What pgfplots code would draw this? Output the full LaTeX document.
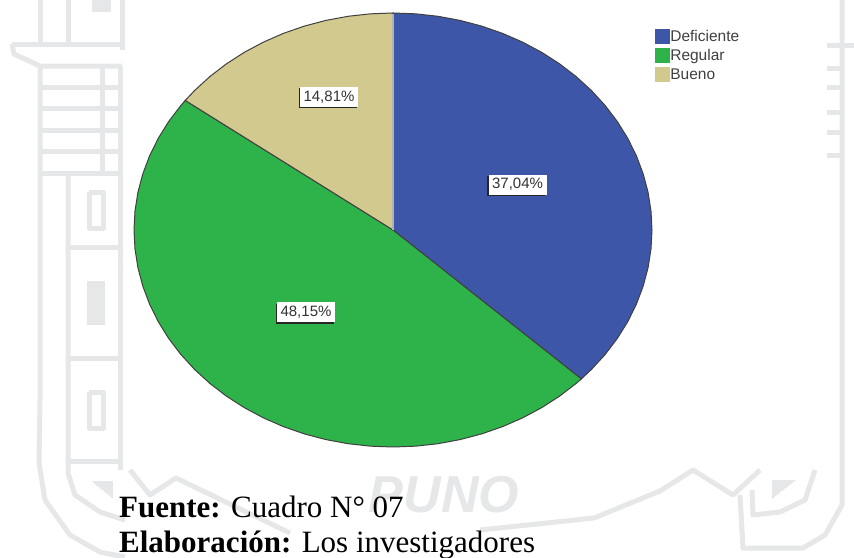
\documentclass[border=0pt]{standalone}
\usepackage{pgfplots}
\pgfplotsset{compat=1.18}
\usepgfplotslibrary{polar}
\usepackage{fontspec}
\setmainfont{Liberation Serif}
\newfontfamily\lab{Liberation Sans}
\definecolor{wm}{HTML}{E6E7E8}
\definecolor{cblue}{HTML}{3E56A8}
\definecolor{cgreen}{HTML}{2DB34A}
\definecolor{ctan}{HTML}{D2C98E}
\tikzset{lb/.style={fill=white,inner sep=0pt,minimum width=58pt,minimum height=20pt,text=black!80,font=\lab\fontsize{15}{15}\selectfont},
 sh/.style={fill=black!85,inner sep=0pt,minimum width=58pt,minimum height=20pt},
 wl/.style={wm,line width=5pt,line join=round},
 wf/.style={wm,fill=wm,line width=0pt}}
\begin{document}
\begin{tikzpicture}[x=1pt,y=1pt]
\useasboundingbox (0,0) rectangle (854,557);
\begin{axis}[at={(0pt,0pt)},anchor=south west,scale only axis,width=854pt,height=557pt,
  xmin=0,xmax=854,ymin=0,ymax=557,y dir=reverse,hide axis,clip=true]
% watermark, left tower
\addplot[wl] coordinates {(40,0)(40,44)};
\addplot[wl] coordinates {(68,0)(68,44)};
\addplot[wl] coordinates {(122,0)(122,50)};
\addplot[wl] coordinates {(12,44)(125,44)};
\addplot[wl] coordinates {(12,44)(14,54)(40,66)(122,66)};
\addplot[wl] coordinates {(40,66)(40,400)(39,463)(45,500)(70,535)(100,552)(125,557)};
\addplot[wl] coordinates {(68,174)(68,473)(75,495)(100,512)(125,520)};
\addplot[wl] coordinates {(120,66)(120,470)};
\addplot[wl] coordinates {(40,87)(120,87)};
\addplot[wl] coordinates {(40,108)(120,108)};
\addplot[wl] coordinates {(40,130)(120,130)};
\addplot[wl] coordinates {(40,151)(120,151)};
\addplot[wl] coordinates {(40,173)(120,173)};
\addplot[wl] coordinates {(102,66)(102,173)};
\addplot[wl] coordinates {(68,247)(120,247)};
\addplot[wl] coordinates {(68,358)(120,358)};
\addplot[wl] coordinates {(68,461)(120,461)};
\addplot[wl] coordinates {(89,192)(103,192)(103,228)(89,228)(89,192)};
\addplot[wl] coordinates {(89,392)(103,392)(103,428)(89,428)(89,392)};
\addplot[wf] coordinates {(87,281)(104,281)(104,324)(87,324)(87,281)};
\addplot[wf] coordinates {(92,481)(112,481)(112,497)(92,481)};
\addplot[wf] coordinates {(92,-1)(110,-1)(110,11)(92,11)(92,-1)};
% watermark, right tower
\addplot[wl] coordinates {(842,0)(842,430)(842,505)(825,535)(803,548)(743,548)(740,495)};
\addplot[wl] coordinates {(827,68)(842,68)};
\addplot[wl] coordinates {(827,45)(854,45)};
\addplot[wl] coordinates {(827,87)(842,87)};
\addplot[wl] coordinates {(827,112)(842,112)};
\addplot[wl] coordinates {(827,132)(842,132)};
\addplot[wl] coordinates {(827,155)(842,155)};
\addplot[wl] coordinates {(815,470)(805,500)(780,512)(753,515)(752,490)};
\addplot[wf] coordinates {(772,480)(795,480)(772,498)(772,480)};
% hills
\addplot[wl] coordinates {(130,470)(150,495)(176,478)(290,533)};
\addplot[wl] coordinates {(480,530)(594,518)(660,491)(693,470)(733,495)(760,470)};
\node[wm,font=\lab\bfseries\itshape\fontsize{52}{52}\selectfont,anchor=base] at (axis cs:444,512) {PUNO};
% captions
\node[anchor=base west,inner sep=0pt,font=\fontsize{31}{31}\selectfont] at (axis cs:119,517) {\textbf{Fuente:} Cuadro N° 07};
\node[anchor=base west,inner sep=0pt,font=\fontsize{31}{31}\selectfont] at (axis cs:119,552) {\textbf{Elaboración:} Los investigadores};
\end{axis}
\begin{axis}[at={(393pt,327pt)},anchor=center,scale only axis,width=518pt,height=434pt,
  xmin=-1,xmax=1,ymin=-1,ymax=1,hide axis,clip=false,
  legend style={at={(axis cs:1.012,0.926)},anchor=north west,draw=none,fill=none,inner sep=0pt,
    font=\lab\fontsize{15.5}{15.5}\selectfont,text=black!75,row sep=4pt,
    nodes={inner sep=0pt,anchor=west}},
  legend cell align=left,
  legend image code/.code={\fill[#1,draw=none] (0pt,-7.5pt) rectangle (15pt,7.5pt);\hspace*{8pt}}]
\addplot[data cs=polar,fill=cblue,draw=black!75,line width=1pt] coordinates {(0,0)
 (90,1)(85,1)(80,1)(75,1)(70,1)(65,1)(60,1)(55,1)(50,1)(45,1)(40,1)(35,1)(30,1)(25,1)(20,1)(15,1)(10,1)(5,1)(0,1)
 (-5,1)(-10,1)(-15,1)(-20,1)(-25,1)(-30,1)(-35,1)(-40,1)(-43.34,1)(0,0)};
\addlegendentry{Deficiente}
\addplot[data cs=polar,fill=cgreen,draw=black!75,line width=1pt] coordinates {(0,0)
 (-43.34,1)(-45,1)(-50,1)(-55,1)(-60,1)(-65,1)(-70,1)(-75,1)(-80,1)(-85,1)(-90,1)(-95,1)(-100,1)(-105,1)(-110,1)(-115,1)(-120,1)(-125,1)(-130,1)(-135,1)(-140,1)(-145,1)(-150,1)(-155,1)(-160,1)(-165,1)(-170,1)(-175,1)(-180,1)(-185,1)(-190,1)(-195,1)(-200,1)(-205,1)(-210,1)(-215,1)(-216.66,1)(0,0)};
\addlegendentry{Regular}
\addplot[data cs=polar,fill=ctan,draw=black!75,line width=1pt] coordinates {(0,0)
 (143.34,1)(140,1)(135,1)(130,1)(125,1)(120,1)(115,1)(110,1)(105,1)(100,1)(95,1)(90,1)(0,0)};
\addlegendentry{Bueno}
\addplot[data cs=polar,forget plot,color=black!30,line width=1.5pt] coordinates {(90,0)(90,0.995)};
\end{axis}
\begin{axis}[at={(0pt,0pt)},anchor=south west,scale only axis,width=854pt,height=557pt,
  xmin=0,xmax=854,ymin=0,ymax=557,y dir=reverse,hide axis,clip=false]
\node[sh] at (axis cs:516,186) {};
\node[lb] at (axis cs:517.5,184.5) {37,04\%};
\node[sh] at (axis cs:327.5,98.5) {};
\node[lb] at (axis cs:329,97) {14,81\%};
\node[sh] at (axis cs:304.5,313.5) {};
\node[lb] at (axis cs:306,312) {48,15\%};
\end{axis}
\end{tikzpicture}
\end{document}
